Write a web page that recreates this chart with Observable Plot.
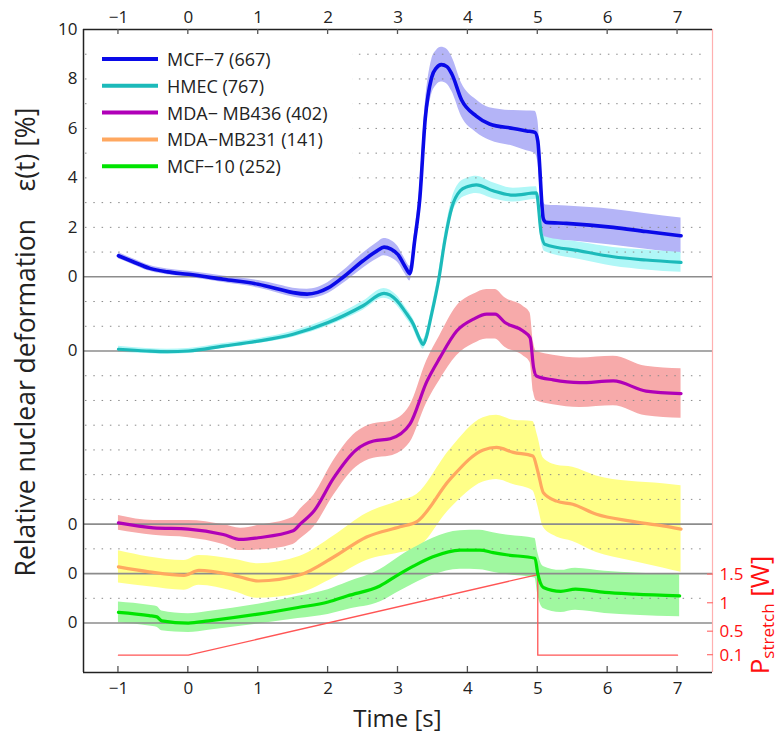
<!DOCTYPE html>
<html><head><meta charset="utf-8">
<script src="https://cdn.jsdelivr.net/npm/d3@7"></script>
<script src="https://cdn.jsdelivr.net/npm/@observablehq/plot@0.6"></script>
<style>body{margin:0;background:#fff;} #chart{width:778px;height:735px;}</style>
</head><body><div id="chart"></div>
<script>
// ---- data (t [s], mean strain [%], band half-width [%]) ----
const mcf7 = [
[-1,0.85,0.12],[-0.8,0.62,0.12],[-0.55,0.34,0.12],[-0.3,0.2,0.12],[0,0.1,0.12],[0.5,-0.1,0.13],
[1,-0.3,0.15],[1.3,-0.5,0.17],[1.5,-0.64,0.18],[1.7,-0.7,0.2],[1.85,-0.63,0.2],[2,-0.45,0.22],
[2.2,-0.05,0.25],[2.5,0.65,0.3],[2.7,1.05,0.33],[2.8,1.2,0.35],[2.9,1.12,0.35],[3.0,0.9,0.33],
[3.1,0.42,0.3],[3.17,0.13,0.3],[3.24,1.5,0.35],[3.31,3.1,0.45],[3.39,6.4,0.6],[3.48,8.05,0.7],
[3.55,8.45,0.7],[3.62,8.58,0.7],[3.7,8.5,0.7],[3.77,8.2,0.7],[3.91,7.15,0.68],[4.12,6.5,0.66],
[4.31,6.18,0.66],[4.65,6.0,0.72],[4.84,5.9,0.8],[4.96,5.84,0.85],[5.0,5.5,0.85],[5.08,2.34,0.7],
[5.12,2.2,0.7],[5.41,2.16,0.7],[6.08,2.0,0.72],[6.55,1.83,0.72],[7.05,1.66,0.72]];
const hmec = [
[-1,0.07,0.12],[-0.6,0.0,0.1],[-0.3,-0.03,0.1],[0,0.0,0.1],[0.5,0.2,0.1],[1,0.4,0.1],
[1.5,0.68,0.12],[2,1.15,0.14],[2.5,1.83,0.18],[2.8,2.33,0.2],[2.98,2.05,0.2],[3.1,1.6,0.2],
[3.22,1.08,0.2],[3.3,0.55,0.2],[3.36,0.27,0.2],[3.41,0.6,0.2],[3.46,1.22,0.22],[3.52,2.0,0.25],
[3.58,2.84,0.28],[3.67,4.46,0.3],[3.77,5.8,0.32],[3.89,6.48,0.35],[4.0,6.65,0.35],[4.12,6.72,0.35],
[4.36,6.48,0.32],[4.65,6.3,0.28],[4.98,6.39,0.25],[5.05,4.73,0.28],[5.1,4.32,0.3],[5.6,4.05,0.35],
[6.08,3.81,0.38],[6.55,3.68,0.4],[7.05,3.58,0.4]];
const mdaMB436 = [
[-1,0.05,0.3],[-0.5,-0.15,0.3],[0,-0.2,0.35],[0.5,-0.42,0.4],[0.75,-0.62,0.45],[1,-0.55,0.5],
[1.5,-0.27,0.55],[1.6,0.0,0.6],[1.8,0.54,0.65],[2.08,1.87,0.7],[2.4,3.0,0.7],[2.65,3.36,0.7],
[2.89,3.45,0.7],[3.17,4.04,0.75],[3.41,5.75,0.85],[3.6,6.73,0.9],[3.84,7.81,1.0],[4.08,8.29,1.0],
[4.27,8.49,1.0],[4.39,8.49,1.0],[4.53,8.15,1.0],[4.79,7.81,1.0],[4.89,7.54,1.0],[4.94,6.33,1.0],
[4.98,5.99,1.0],[5.22,5.83,1.0],[5.6,5.72,1.0],[6.08,5.79,1.0],[6.55,5.38,1.0],[7.05,5.28,1.0]];
const mdaMB231 = [
[-1,0.27,0.65],[-0.56,0.07,0.6],[-0.06,-0.07,0.6],[0.15,0.13,0.6],[0.65,-0.07,0.65],[1.0,-0.3,0.7],
[1.6,-0.05,0.75],[2.08,0.67,0.85],[2.55,1.48,0.95],[3.03,1.89,1.05],[3.27,2.1,1.1],[3.74,3.8,1.2],
[4.22,5.0,1.3],[4.41,5.1,1.3],[4.65,4.9,1.3],[4.93,4.75,1.4],[5.0,4.14,1.4],[5.08,3.27,1.4],
[5.27,2.93,1.45],[5.5,2.8,1.5],[5.84,2.4,1.55],[6.31,2.13,1.6],[6.79,1.93,1.7],[7.05,1.8,1.75]];
const mcf10 = [
[-1,0.43,0.42],[-0.56,0.3,0.42],[-0.45,0.25,0.42],[-0.38,0.09,0.4],[0,0.0,0.38],[0.29,0.09,0.38],
[1.0,0.36,0.4],[1.57,0.63,0.45],[2.0,0.85,0.5],[2.28,1.1,0.55],[2.74,1.5,0.65],[3.03,2.0,0.7],
[3.22,2.3,0.72],[3.5,2.68,0.75],[3.89,2.95,0.78],[4.17,2.95,0.8],[4.36,2.85,0.8],[4.55,2.76,0.8],
[4.96,2.62,0.8],[5.0,2.0,0.85],[5.08,1.44,0.85],[5.33,1.28,0.85],[5.54,1.37,0.85],[5.96,1.24,0.85],
[6.39,1.17,0.85],[7.03,1.1,0.85]];

const seriesNames = ["MCF−7", "HMEC", "MDA− MB436", "MDA−MB231", "MCF−10"];
const seriesCounts = [667, 767, 402, 141, 252];
const seriesOffsets = [0, -3, -10, -12, -14];          // vertical stacking offsets [%]
const lineColors = ["#0a0ae8", "#1cbaba", "#b000b8", "#ffa860", "#00e400"];
const bandColors = ["#b4b4f7", "#b0f7f7", "#f7aaaa", "#ffff88", "#a0f8a0"];

const stretchTime = [-1, 0, 5, 5, 7];
const stretchPower = [0.1, 0.1, 1.5, 0.1, 0.1];
const powerTicks = [0.1, 0.5, 1, 1.5];
const timeTicks = [-1, 0, 1, 2, 3, 4, 5, 6, 7];
const strainTicksTop = [0, 2, 4, 6, 8, 10];

// ---- derived tables ----
const allData = [mcf7, hmec, mdaMB436, mdaMB231, mcf10];
const rows = allData.map((arr, i) => arr.map(([t, m, s]) => ({
  t, v: m + seriesOffsets[i], lo: m - s + seriesOffsets[i], hi: m + s + seriesOffsets[i]
})));
// right-hand power axis, placed within the lowest panel
const pToY = d3.scaleLinear().domain(powerTicks).range([-15.3, -14.35, -13.2, -12.04]);
const stretch = stretchTime.map((t, i) => ({t, y: pToY(stretchPower[i])}));
const pLabel = new Map(powerTicks.map(p => [pToY(p), String(p)]));

const yTicks = [...strainTicksTop, ...seriesOffsets.slice(1)];
const yTickLabel = new Map(yTicks.map(v => [v, v > 0 ? String(v) : "0"]));
const gridVals = d3.range(-13, 10).filter(v => !seriesOffsets.includes(v));

const FONT = "'Open Sans', sans-serif";
const X0 = -1.5, X1 = 7.5, Y0 = -16, Y1 = 10;

const marks = [];
rows.forEach((r, i) => marks.push(Plot.areaY(r, {x: "t", y1: "lo", y2: "hi", fill: bandColors[i], curve: "monotone-x"})));
marks.push(Plot.ruleY(gridVals, {stroke: "#8a8a8a", strokeDasharray: "1.5,6.8", strokeWidth: 1, insetLeft: 2, insetRight: 9}));
marks.push(Plot.ruleY(seriesOffsets, {stroke: "#8c8c8c", strokeWidth: 1.6}));
marks.push(Plot.line(stretch, {x: "t", y: "y", stroke: "#ff5555", strokeWidth: 1.3}));
rows.forEach((r, i) => marks.push(Plot.line(r, {x: "t", y: "v", stroke: lineColors[i], strokeWidth: i === 0 ? 3.6 : 3.2, curve: "monotone-x"})));
// frame
marks.push(Plot.ruleX([X1], {stroke: "#ffb0b0", strokeWidth: 1.2}));
marks.push(Plot.ruleY([Y1, Y0], {stroke: "#222", strokeWidth: 1.5}));
marks.push(Plot.ruleX([X0], {stroke: "#222", strokeWidth: 1.5}));
// axes
marks.push(Plot.axisX(timeTicks, {anchor: "bottom", tickSize: 0, tickPadding: 9, fontSize: 17, label: null}));
marks.push(Plot.axisX(timeTicks, {anchor: "top", tickSize: 0, tickPadding: 7, fontSize: 17, label: null}));
marks.push(Plot.axisY(yTicks, {anchor: "left", tickSize: 0, tickPadding: 6, fontSize: 17, tickFormat: v => yTickLabel.get(v), label: null}));
marks.push(Plot.axisY(powerTicks.map(pToY), {anchor: "right", tickSize: 0, tickPadding: 7, fontSize: 17, color: "#ff1010", tickFormat: v => pLabel.get(v), label: null}));

const chart = Plot.plot({
  width: 778, height: 735,
  marginLeft: 83, marginRight: 66, marginTop: 29, marginBottom: 63,
  x: {domain: [X0, X1]},
  y: {domain: [Y0, Y1]},
  style: {fontFamily: FONT, fontSize: "17px", color: "#222", background: "#fff"},
  marks
});
document.getElementById("chart").appendChild(chart);

// ---- decorations through the plot's own scales ----
const sx = chart.scale("x"), sy = chart.scale("y");
const svg = d3.select(chart);
const g = svg.append("g");
// inward tick marks
timeTicks.forEach(t => {
  g.append("line").attr("x1", sx.apply(t)).attr("x2", sx.apply(t))
    .attr("y1", sy.apply(Y1)).attr("y2", sy.apply(Y1) + 5).attr("stroke", "#555").attr("stroke-width", 1.3);
  g.append("line").attr("x1", sx.apply(t)).attr("x2", sx.apply(t))
    .attr("y1", sy.apply(Y0)).attr("y2", sy.apply(Y0) - 6).attr("stroke", "#555").attr("stroke-width", 1.3);
});
powerTicks.forEach(p => {
  g.append("line").attr("x1", sx.apply(X1) - 5).attr("x2", sx.apply(X1) + 1)
    .attr("y1", sy.apply(pToY(p))).attr("y2", sy.apply(pToY(p))).attr("stroke", "#ff7070").attr("stroke-width", 1.2);
});
// axis titles
svg.append("text").attr("x", sx.apply(3)).attr("y", 727).attr("text-anchor", "middle")
  .attr("font-family", FONT).attr("font-size", 24).attr("fill", "#222").text("Time [s]");
svg.append("text").attr("transform", "translate(35,342) rotate(-90)").attr("text-anchor", "middle")
  .attr("font-family", FONT).attr("font-size", 26.5).attr("fill", "#222").attr("xml:space", "preserve")
  .text("Relative nuclear deformation    ε(t) [%]");
const pl = svg.append("text").attr("transform", "translate(769,615) rotate(-90)").attr("text-anchor", "middle")
  .attr("font-family", FONT).attr("font-size", 26).attr("fill", "#ff1010");
pl.append("tspan").text("P");
pl.append("tspan").attr("font-size", 17).attr("dy", 5).text("stretch");
pl.append("tspan").attr("dy", -5).text(" [W]");

// legend
const lg = svg.append("g").attr("text-anchor", "start");
lg.append("rect").attr("x", 90).attr("y", 40).attr("width", 262).attr("height", 142).attr("fill", "#fff");
seriesNames.forEach((n, i) => {
  const y = 59 + i * 26.8;
  lg.append("line").attr("x1", 102).attr("x2", 158).attr("y1", y).attr("y2", y)
    .attr("stroke", lineColors[i]).attr("stroke-width", 4);
  lg.append("text").attr("x", 167).attr("y", y + 7).attr("text-anchor", "start").attr("font-family", FONT).attr("font-size", 18)
    .attr("fill", "#222").attr("xml:space", "preserve").text(`${n} (${seriesCounts[i]})`);
});
</script>
</body></html>
